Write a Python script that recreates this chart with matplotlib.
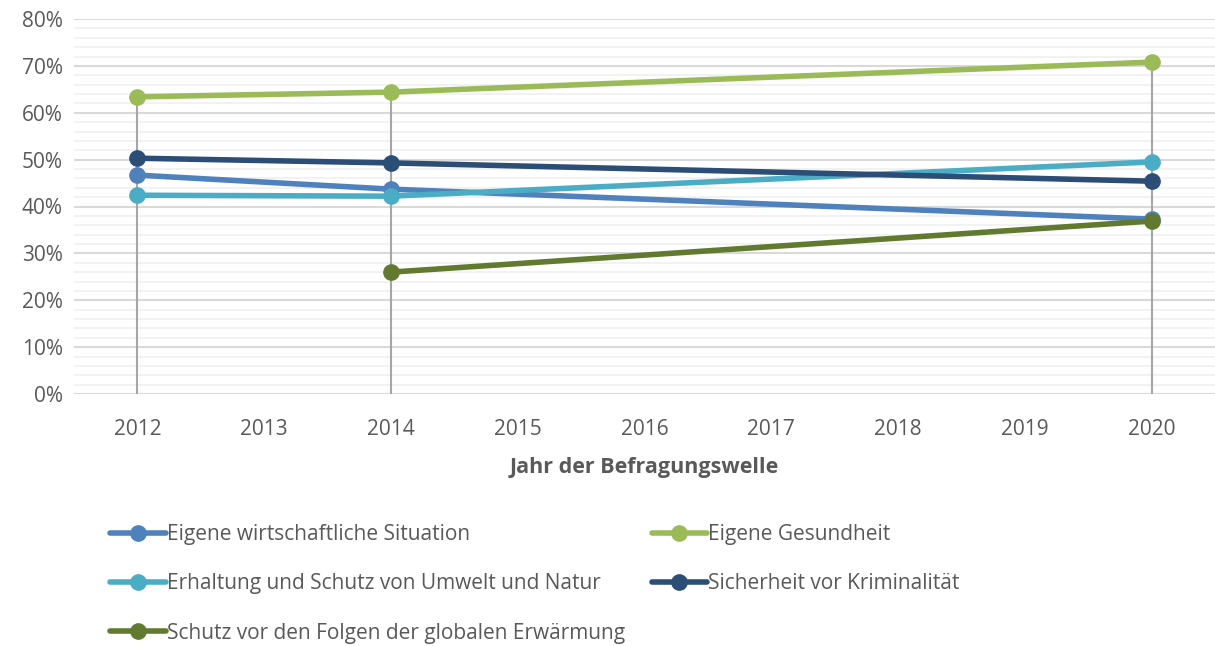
import numpy as np
import matplotlib.pyplot as plt
from matplotlib.ticker import MultipleLocator, PercentFormatter

# ==========================
# DATA
# ==========================
YEARS = [2012, 2013, 2014, 2015, 2016, 2017, 2018, 2019, 2020]
SURVEY_YEARS = [2012, 2014, 2020]

wirtschaft = [46.7, 43.7, 37.3]
gesundheit = [63.4, 64.4, 70.8]
umwelt = [42.4, 42.2, 49.5]
kriminalitaet = [50.3, 49.3, 45.4]
erwaermung = [None, 26.0, 36.9]

LABELS = [
    "Eigene wirtschaftliche Situation",
    "Eigene Gesundheit",
    "Erhaltung und Schutz von Umwelt und Natur",
    "Sicherheit vor Kriminalität",
    "Schutz vor den Folgen der globalen Erwärmung",
]
COLORS = ["#4F81BD", "#9BBB59", "#4BACC6", "#2C4D75", "#617A30"]
SERIES = [wirtschaft, gesundheit, umwelt, kriminalitaet, erwaermung]

plt.rcParams["font.family"] = ["Open Sans", "DejaVu Sans"]
TEXT_COLOR = "#595959"

fig = plt.figure(figsize=(12.15, 6.46), dpi=100)
ax = fig.add_axes([74 / 1215, 1 - 394 / 646, 1 - 74 / 1215, (394 - 19) / 646])

pos = {y: i for i, y in enumerate(YEARS)}
xs = [pos[y] for y in SURVEY_YEARS]

# drop lines from the highest point down to the axis
for i, x in enumerate(xs):
    top = max(s[i] for s in SERIES if s[i] is not None)
    ax.vlines(x, 0, top, color="#A6A6A6", lw=1.5, zorder=2)

handles = []
for vals, label, color in zip(SERIES, LABELS, COLORS):
    px = [x for x, v in zip(xs, vals) if v is not None]
    py = [v for v in vals if v is not None]
    h, = ax.plot(px, py, color=color, lw=4, marker="o", markersize=11,
                 label=label, zorder=3, solid_capstyle="round")
    handles.append(h)

ax.set_xlim(-0.5, len(YEARS) - 0.5)
ax.set_ylim(0, 80)
ax.set_xticks(range(len(YEARS)))
ax.set_xticklabels([str(y) for y in YEARS])
ax.yaxis.set_major_locator(MultipleLocator(10))
ax.yaxis.set_minor_locator(MultipleLocator(2))
ax.yaxis.set_major_formatter(PercentFormatter(decimals=0))

ax.grid(axis="y", which="major", color="#D9D9D9", lw=1.5, zorder=0)
ax.grid(axis="y", which="minor", color="#F0F0F0", lw=1.2, zorder=0)
ax.set_axisbelow(True)
for side in ["top", "right", "left", "bottom"]:
    ax.spines[side].set_visible(False)
ax.tick_params(axis="both", which="both", length=0, labelsize=15, labelcolor=TEXT_COLOR)
ax.tick_params(axis="x", pad=18)
ax.tick_params(axis="y", pad=8)

ax.set_xlabel("Jahr der Befragungswelle", fontsize=15.5, fontweight="bold",
              color=TEXT_COLOR, labelpad=12)

# legend: two columns, row order as in the original
order = [0, 2, 4, 1, 3]
fig.legend([handles[i] for i in order], [LABELS[i] for i in order],
           ncol=2, loc="upper left", bbox_to_anchor=(102 / 1215, 1 - 516 / 646),
           frameon=False, fontsize=15, labelcolor=TEXT_COLOR,
           handlelength=2.65, handletextpad=0.05, columnspacing=1.3,
           labelspacing=1.35, borderaxespad=0)

fig.savefig("out.png", dpi=100)
